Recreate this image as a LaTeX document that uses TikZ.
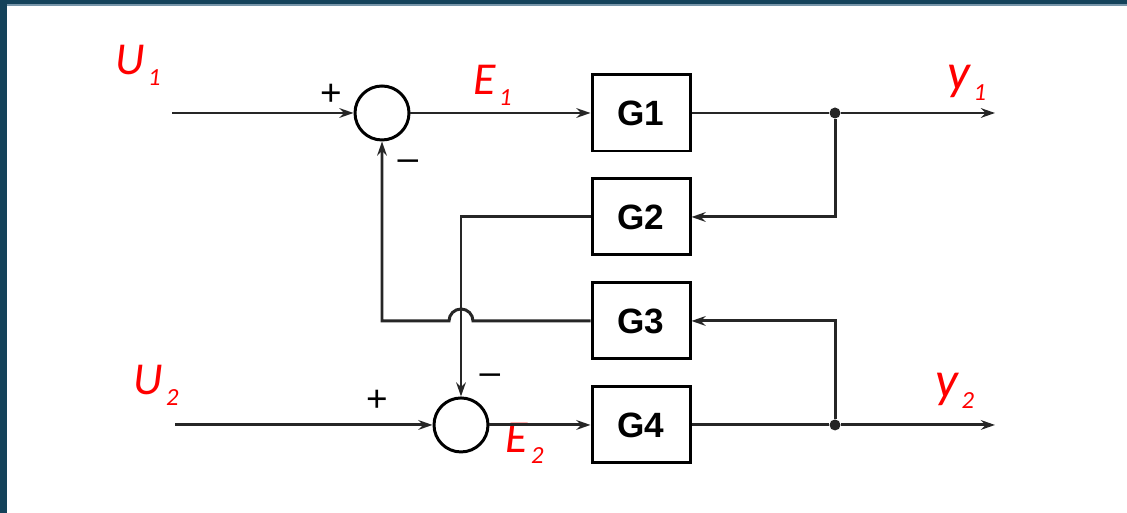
\documentclass[tikz,border=0pt]{standalone}
\usepackage{fontspec}
\usepackage{xcolor}
\usepackage{tikz}
\usetikzlibrary{positioning, arrows.meta, calc}

\newfontfamily\labfont{Carlito}
\newfontfamily\blockfont{Liberation Sans}
\definecolor{frameblue}{RGB}{20,66,90}
\definecolor{framelight}{RGB}{120,150,170}
\newcommand{\sig}[2]{#1\kern2pt\raisebox{-6pt}{\fontsize{14}{14}\selectfont #2}}

\begin{document}
\begin{tikzpicture}[
    % Pengaturan jarak antar node
    node distance=0.5cm and 0cm,
    % Gaya blok transfer
    block_box/.style={
        draw,
        rectangle,
        line width=1.7pt,
        minimum width=1.96cm,
        minimum height=1.52cm,
        font=\blockfont\bfseries\fontsize{20}{20}\selectfont
    },
    % Gaya titik penjumlah
    sum_node/.style={
        draw,
        circle,
        line width=1.7pt,
        minimum size=1.08cm,
        inner sep=0pt
    },
    % Gaya titik cabang
    branch_dot/.style={
        circle,
        fill=black!85,
        minimum size=0.22cm,
        inner sep=0pt
    },
    % Gaya label sinyal
    signal_label/.style={
        anchor=north west,
        inner sep=0pt,
        text=red,
        font=\labfont\itshape\fontsize{26}{26}\selectfont
    },
    % Gaya tanda
    sign_label/.style={
        inner sep=0pt,
        font=\blockfont\fontsize{21}{21}\selectfont
    },
    % Gaya garis dan panah
    line/.style={
        line width=1.7pt,
        draw=black!85
    },
    arrow/.style={
        line,
        -{Stealth[length=8pt, width=5.5pt]}
    }
]

% bingkai
\useasboundingbox (0,0) rectangle (22.54,-10.26);
\fill[frameblue] (0,0) rectangle (22.54,-0.09);
\fill[framelight] (0.14,-0.09) rectangle (22.54,-0.12);
\fill[frameblue] (0,0) rectangle (0.14,-10.26);

% =====================================================================
% NODE / BLOK
% =====================================================================
\node (g1) [block_box] at (12.82,-2.26) {G1};
\node (g2) [block_box, below=of g1] {G2};
\node (g3) [block_box, below=of g2] {G3};
\node (g4) [block_box, below=of g3] {G4};

\node (s1) [sum_node] at (7.64,-2.26) {};
\node (s2) [sum_node] at (9.22,0 |- g4) {};

\node (j1) [branch_dot] at (16.7,-2.26) {};
\node (j2) [branch_dot] at (16.7,0 |- g4) {};

\coordinate (u1) at (3.44,-2.26);
\coordinate (u2) at (3.5,0 |- g4);
\coordinate (out1) at (19.9,-2.26);
\coordinate (out2) at (19.9,0 |- g4);

% =====================================================================
% LABEL
% =====================================================================
\node (lu1) [signal_label] at (2.3,-0.9) {\sig{U}{1}};
\node (lu2) [signal_label] at (2.66,-7.3) {\sig{U}{2}};
\node (le1) [signal_label] at (9.46,-1.3) {\sig{E}{1}};
\node (le2) [signal_label] at (10.1,-8.46) {\sig{E}{2}};
\node (ly1) [signal_label, font=\labfont\itshape\fontsize{29}{29}\selectfont] at (18.94,-1.3) {\sig{y}{1}};
\node (ly2) [signal_label, font=\labfont\itshape\fontsize{29}{29}\selectfont] at (18.7,-7.46) {\sig{y}{2}};

\node (p1) [sign_label] at (6.62,-1.9) {+};
\node (m1) [sign_label] at (8.16,-3.3) {–};
\node (p2) [sign_label] at (7.54,-8.02) {+};
\node (m2) [sign_label] at (9.8,-7.58) {–};

% =====================================================================
% KONEKSI PANAH / ALUR
% =====================================================================
\draw [arrow] (u1) -- (s1.west);
\draw [arrow] (s1.east) -- (g1.west);
\draw [line] (g1.east) -- (j1);
\draw [arrow] (j1) -- (out1);

\draw [arrow] (u2) -- (s2.west);
\draw [arrow] (s2.east) -- (g4.west);
\draw [line] (g4.east) -- (j2);
\draw [arrow] (j2) -- (out2);

\draw [arrow] (j1) |- (g2.east);
\draw [arrow] (g2.west) -| (s2.north);

\draw [arrow] (j2) |- (g3.east);
\draw [arrow] (g3.west) -- ($(g3.west -| s2)+(0.24,0)$)
    arc[start angle=0, end angle=180, radius=0.24cm]
    -- (g3.west -| s1) -- (s1.south);

\end{tikzpicture}
\end{document}
